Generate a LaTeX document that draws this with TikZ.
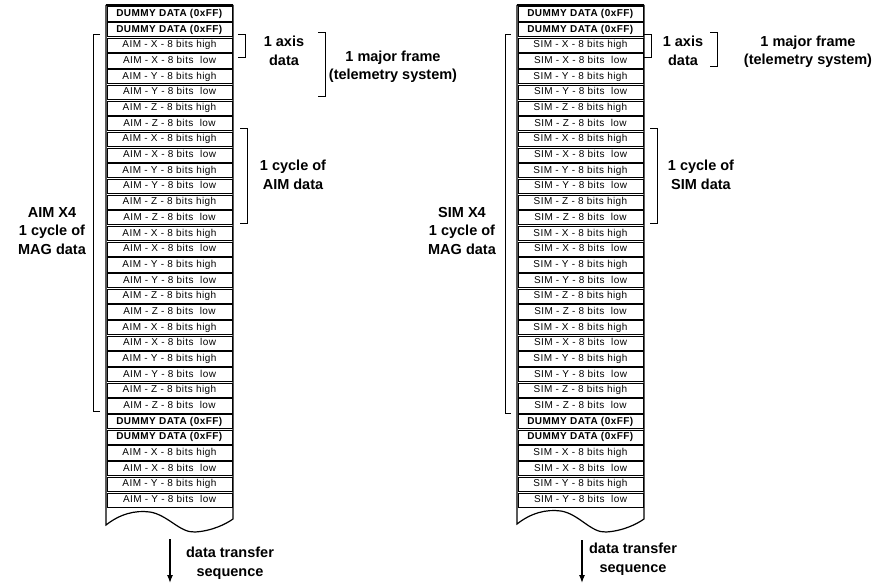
\documentclass[tikz,border=0pt]{standalone}
\usepackage{fontspec}
\setmainfont{Liberation Sans}
\newfontfamily\cellfont[LetterSpace=4.5]{Liberation Sans}
\usetikzlibrary{arrows.meta}
\newcommand\cellD{\textbf{DUMMY DATA (0xFF)}}
\newcommand\cellXh{\nm{} - X - 8 bits high}
\newcommand\cellXl{\nm{} - X - 8 bits\ \ low}
\newcommand\cellYh{\nm{} - Y - 8 bits high}
\newcommand\cellYl{\nm{} - Y - 8 bits\ \ low}
\newcommand\cellZh{\nm{} - Z - 8 bits high}
\newcommand\cellZl{\nm{} - Z - 8 bits\ \ low}
\def\rowlist{D,D,Xh,Xl,Yh,Yl,Zh,Zl,Xh,Xl,Yh,Yl,Zh,Zl,Xh,Xl,Yh,Yl,Zh,Zl,Xh,Xl,Yh,Yl,Zh,Zl,D,D,Xh,Xl,Yh,Yl}
\begin{document}
\begin{tikzpicture}[x=1pt,y=-1pt,
  cell/.style={draw, line width=0.9pt, minimum width=125pt, minimum height=14.2pt, inner sep=0pt,
    text height=7.2pt, text depth=2.2pt,
    font=\cellfont\fontsize{10}{11}\selectfont},
  lbl/.style={font=\bfseries\fontsize{14.5}{18.5}\selectfont, align=center, inner sep=0pt},
  brk/.style={line width=1pt},
  frm/.style={line width=1.2pt},
  flow/.style={line width=1.2pt, -{Latex[length=8pt,width=6pt]}}]
\useasboundingbox (0,0) rectangle (877,583);
% columns of cells
\foreach \sd/\nm/\xc in {L/AIM/169.5, R/SIM/580.5}{
  \foreach \r [count=\i from 0] in \rowlist {
    \node[cell] (\sd\i) at (\xc, 14+15.68*\i) {\csname cell\r\endcsname};
  }
}
% outer frames with wavy bottom
\draw[frm] (106,5) -- (233,5);
\draw[frm] (106,5) -- (106,525)
  .. controls (120,514) and (135,510) .. (150,512)
  .. controls (168,515) and (180,533) .. (195,532)
  .. controls (212,531) and (226,524) .. (233,519) -- (233,5);
\draw[frm] (517,5) -- (644,5);
\draw[frm] (517,5) -- (517,524)
  .. controls (531,513) and (546,509) .. (561,511)
  .. controls (579,514) and (591,533) .. (606,532)
  .. controls (623,531) and (637,524) .. (644,519) -- (644,5);
% left brackets
\draw[brk] (100,35) -- (93,35) -- (93,411) -- (100,411);
\draw[brk] (238,35) -- (245,35) -- (245,58) -- (238,58);
\draw[brk] (318,33) -- (325,33) -- (325,97) -- (318,97);
\draw[brk] (240,128) -- (247,128) -- (247,223) -- (240,223);
% right brackets
\draw[brk] (511,35) -- (505,35) -- (505,413) -- (511,413);
\draw[brk] (644,35) -- (651,35) -- (651,58) -- (644,58);
\draw[brk] (710,33) -- (717,33) -- (717,67) -- (710,67);
\draw[brk] (650,128) -- (657,128) -- (657,223) -- (650,223);
% left labels
\node[lbl] (lmag) at (52,231) {AIM X4\\1 cycle of\\MAG data};
\node[lbl] (laxis) at (284,51) {1 axis\\data};
\node[lbl] (lmaj) at (393,67) {1 major frame\\(telemetry system)};
\node[lbl] (lcyc) at (293,175) {1 cycle of\\AIM data};
% right labels
\node[lbl] (rmag) at (462,231) {SIM X4\\1 cycle of\\MAG data};
\node[lbl] (raxis) at (683,51) {1 axis\\data};
\node[lbl] (rmaj) at (808,52) {1 major frame\\(telemetry system)};
\node[lbl] (rcyc) at (701,175) {1 cycle of\\SIM data};
% data transfer arrows
\coordinate (la1) at (170,539);
\coordinate (la2) at (170,583);
\draw[flow] (la1) -- (la2);
\node[lbl] (lseq) at (230,563) {data transfer\\sequence};
\coordinate (ra1) at (582,540);
\coordinate (ra2) at (582,583);
\draw[flow] (ra1) -- (ra2);
\node[lbl] (rseq) at (633,559) {data transfer\\sequence};
\end{tikzpicture}
\end{document}
